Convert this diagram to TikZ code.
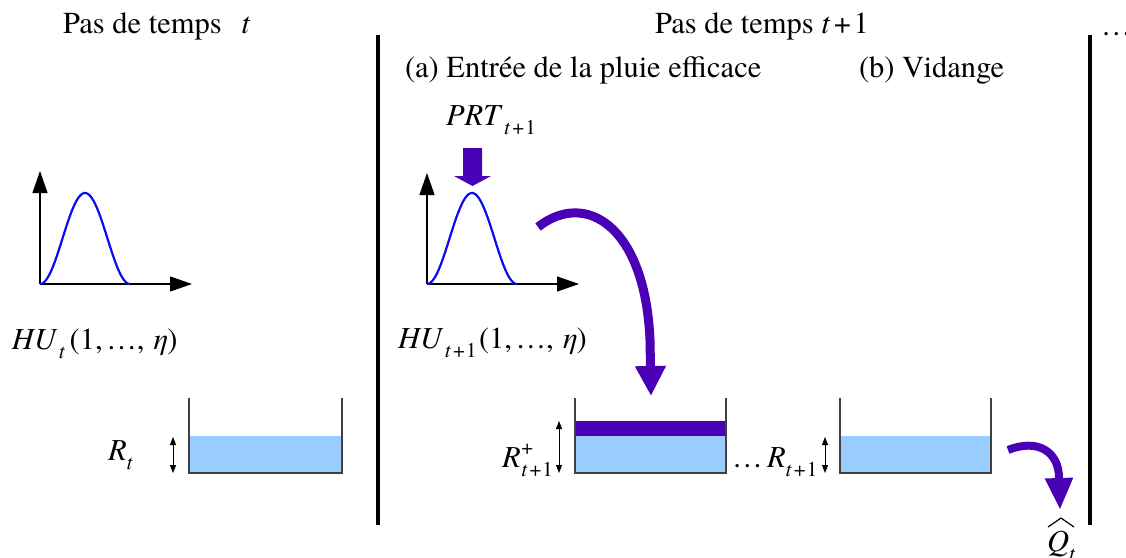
\documentclass[tikz,border=0pt]{standalone}
\usepackage{fontspec}
\setmainfont{texgyretermes}[Extension=.otf, UprightFont=*-regular, ItalicFont=*-italic, BoldFont=*-bold, BoldItalicFont=*-bolditalic]
\usetikzlibrary{arrows.meta}
\definecolor{purp}{RGB}{74,0,180}
\definecolor{water}{RGB}{153,204,255}
\definecolor{hucurve}{RGB}{10,10,245}
\newcommand{\mysub}[1]{\raisebox{-0.3em}{\fontsize{21}{24}\selectfont #1}}
\newcommand{\mysup}[1]{\raisebox{0.42em}{\fontsize{21}{24}\selectfont #1}}
\begin{document}
\begin{tikzpicture}[x=1pt,y=-1pt,
  font=\fontsize{30.5}{36}\selectfont,
  txt/.style={anchor=base west, inner sep=0pt, outer sep=0pt},
  sep/.style={line width=4pt, black},
  axis/.style={line width=1.2pt, black, -{Triangle[length=22pt,width=15pt]}},
  bell/.style={line width=2.2pt, hucurve},
  wall/.style={line width=1.3pt, black!75},
  lvl/.style={line width=1pt, {Triangle[length=8pt,width=6pt]}-{Triangle[length=8pt,width=6pt]}},
  flow/.style={purp, line width=9pt, -{Triangle[length=30pt,width=29pt]}},
  smallflow/.style={purp, line width=8pt, -{Triangle[length=32pt,width=26pt]}}
]
\useasboundingbox (0,0) rectangle (1126,557);

% separators
\draw[sep] (378,35) -- (378,525);
\draw[sep] (1090,35) -- (1090,525);

% headings
\node[txt] (h1) at (63,33) {Pas de temps\hspace{0.65em}\textit{t}};
\node[txt] (h2) at (655,33) {Pas de temps \textit{t}\hspace{0.12em}+\hspace{0.08em}1};
\node[txt] (dots) at (1101,35) {…};
\node[txt] (ha) at (405,77) {(a) Entrée de la pluie efficace};
\node[txt] (hb) at (859,77) {(b) Vidange};

% hydrographs
\foreach \dx/\top in {0/171, 387/173} {
  \draw[axis] (40+\dx,284) -- (40+\dx,\top);
  \draw[axis] (40+\dx,284) -- (192+\dx,284);
  \draw[bell] plot[domain=0:1, samples=60, variable=\s] ({40+\dx+90*\s},{284-91*(1-cos(360*\s))/2});
}
\node[txt] (hu1) at (12,349) {\textit{HU}\hspace{0.05em}\mysub{\textit{t}}\hspace{0.15em}(1,\hspace{0.12em}…,\hspace{0.3em}\textit{η})};
\node[txt] (hu2) at (398,348) {\textit{HU}\hspace{0.05em}\mysub{\textit{t}\hspace{0.1em}+\hspace{0.05em}1}\hspace{0.08em}(1,\hspace{0.12em}…,\hspace{0.3em}\textit{η})};

% PRT arrow
\node[txt] (prt) at (446,125) {\textit{PRT}\hspace{0.05em}\mysub{\textit{t}\hspace{0.1em}+\hspace{0.05em}1}};
\fill[purp] (463,148) -- (482,148) -- (482,176) -- (491,176) -- (472.5,186) -- (454,176) -- (463,176) -- cycle;

% reservoirs
\fill[water] (189,436) rectangle (342,473);
\draw[wall] (189,398) -- (189,473) -- (342,473) -- (342,398);
\fill[water] (575,436) rectangle (726,473);
\fill[purp] (575,421) rectangle (726,436);
\draw[wall] (575,398) -- (575,473) -- (726,473) -- (726,398);
\fill[water] (840,436) rectangle (991,473);
\draw[wall] (840,398) -- (840,473) -- (991,473) -- (991,398);

% level arrows and labels
\draw[lvl] (173,437) -- (173,473);
\node[txt] (rt) at (108,460) {\textit{R}\mysub{\textit{t}}};
\draw[lvl] (559,421) -- (559,473);
\node[txt] (rp) at (502,467) {\textit{R}\hspace{0.02em}\rlap{\mysup{+}}\mysub{\textit{t}\hspace{0.1em}+\hspace{0.05em}1}};
\node[txt] (mid) at (732,467) {…};
\draw[lvl] (825,437) -- (825,473);
\node[txt] (r1) at (767,467) {\textit{R}\mysub{\textit{t}\hspace{0.1em}+\hspace{0.05em}1}};

% flows
\coordinate (fs) at (538,227);
\coordinate (fe) at (651,396);
\draw[flow] (fs) .. controls (585,190) and (645,225) .. (650,340) -- (fe);
\coordinate (qs) at (1008,450);
\coordinate (qe) at (1060,510);
\draw[smallflow] (qs) .. controls (1038,438) and (1059,452) .. (1059,478) -- (qe);
\node[txt] (q) at (1047,551) {\textit{Q}\mysub{\textit{t}}};
\draw[line width=1.2pt] (1048,527) -- (1061,518) -- (1074,527);
\end{tikzpicture}
\end{document}
